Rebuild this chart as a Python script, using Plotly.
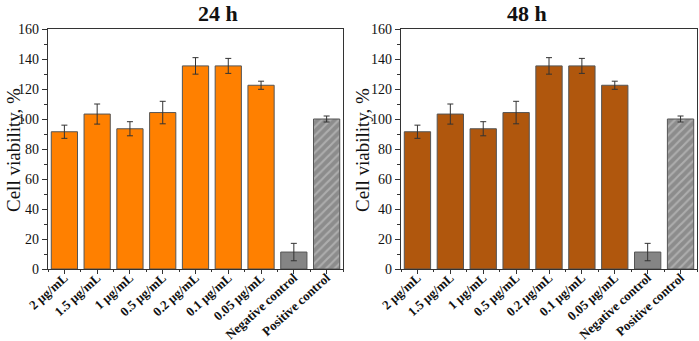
import plotly.graph_objects as go

categories = ["2 μg/mL", "1.5 μg/mL", "1 μg/mL", "0.5 μg/mL", "0.2 μg/mL",
              "0.1 μg/mL", "0.05 μg/mL", "Negative control", "Positive control"]
values_24h = [91.5, 103.3, 93.5, 104.3, 135.4, 135.4, 122.5, 11.3, 100.0]
errors_24h = [4.4, 6.7, 4.7, 7.5, 5.5, 5.0, 2.7, 5.8, 2.0]
values_48h = [91.5, 103.3, 93.5, 104.3, 135.4, 135.4, 122.5, 11.3, 100.0]
errors_48h = [4.4, 6.7, 4.7, 7.5, 5.5, 5.0, 2.7, 5.8, 2.0]
y_ticks = [0, 20, 40, 60, 80, 100, 120, 140, 160]
panel_titles = ["24 h", "48 h"]
y_title = "Cell viability, %"

SERIF = "Liberation Serif, Times New Roman, serif"
xpos = list(range(len(categories)))
W, H = 699, 341

fig = go.Figure()

def add_panel(values, errors, main_color, xa, ya):
    n = len(categories) - 2
    fig.add_trace(go.Bar(
        x=xpos[:n], y=values[:n], width=0.8,
        marker=dict(color=main_color, line=dict(color="#555555", width=1)),
        error_y=dict(type="data", array=errors[:n], color="#333333", thickness=1, width=3),
        xaxis=xa, yaxis=ya, showlegend=False))
    fig.add_trace(go.Bar(
        x=[xpos[n]], y=[values[n]], width=0.8,
        marker=dict(color="#858585", line=dict(color="#555555", width=1)),
        error_y=dict(type="data", array=[errors[n]], color="#333333", thickness=1, width=3),
        xaxis=xa, yaxis=ya, showlegend=False))
    fig.add_trace(go.Bar(
        x=[xpos[n + 1]], y=[values[n + 1]], width=0.8,
        marker=dict(color="#8c8c8c", line=dict(color="#555555", width=1),
                    pattern=dict(shape="/", fgcolor="#d0d0d0", bgcolor="#8c8c8c",
                                 size=6, solidity=0.35)),
        error_y=dict(type="data", array=[errors[n + 1]], color="#333333", thickness=1, width=3),
        xaxis=xa, yaxis=ya, showlegend=False))

add_panel(values_24h, errors_24h, "#FF8000", "x", "y")
add_panel(values_48h, errors_48h, "#B0570D", "x2", "y2")

ydom = [1 - 269 / H, 1 - 29 / H]
xdoms = [[48 / W, 343 / W], [401 / W, 697 / W]]

def xaxis_cfg(dom, anchor):
    return dict(domain=dom, anchor=anchor, range=[-0.5, 8.5], automargin=False,
                tickvals=xpos, ticktext=["<b>%s</b>" % c for c in categories],
                tickangle=-42, ticklabelstandoff=-9,
                tickfont=dict(family=SERIF, size=13, color="#111111"),
                ticks="outside", ticklen=4, tickcolor="#333333", tickwidth=1,
                minor=dict(tickvals=[i + 0.5 for i in range(-1, 9)], ticks="outside",
                           ticklen=2, tickcolor="#333333", tickwidth=1),
                showline=True, linecolor="#333333", linewidth=1.3, mirror=True,
                showgrid=False, zeroline=False, fixedrange=True)

def yaxis_cfg(anchor):
    return dict(domain=ydom, anchor=anchor, range=[0, 160], automargin=False,
                tickvals=y_ticks, ticks="outside", ticklen=5, tickwidth=1,
                tickcolor="#333333",
                minor=dict(dtick=10, tick0=0, ticks="outside", ticklen=3,
                           tickcolor="#333333", tickwidth=1),
                tickfont=dict(family=SERIF, size=14, color="#111111"),
                showline=True, linecolor="#333333", linewidth=1.3, mirror=True,
                showgrid=False, zeroline=False, fixedrange=True)

annotations = []
for i, dom in enumerate(xdoms):
    annotations.append(dict(
        text="<b>%s</b>" % panel_titles[i], x=(dom[0] + dom[1]) / 2,
        y=1 - 14 / H, xref="paper", yref="paper", showarrow=False,
        font=dict(family=SERIF, size=22, color="#111111"), yanchor="middle"))
for xp in (13, 362):
    annotations.append(dict(
        text=y_title, textangle=-90, x=xp / W, y=1 - 150 / H,
        xref="paper", yref="paper", showarrow=False,
        xanchor="center", yanchor="middle",
        font=dict(family=SERIF, size=19, color="#111111")))

fig.update_layout(
    width=W, height=H,
    margin=dict(l=0, r=0, t=0, b=0, autoexpand=False),
    paper_bgcolor="white", plot_bgcolor="white",
    bargap=0.2,
    xaxis=xaxis_cfg(xdoms[0], "y"),
    yaxis=yaxis_cfg("x"),
    xaxis2=xaxis_cfg(xdoms[1], "y2"),
    yaxis2=yaxis_cfg("x2"),
    annotations=annotations,
)

fig.write_html("out.html", config={"displayModeBar": False},
               post_script="document.body.style.margin='0';document.body.style.padding='0';")
